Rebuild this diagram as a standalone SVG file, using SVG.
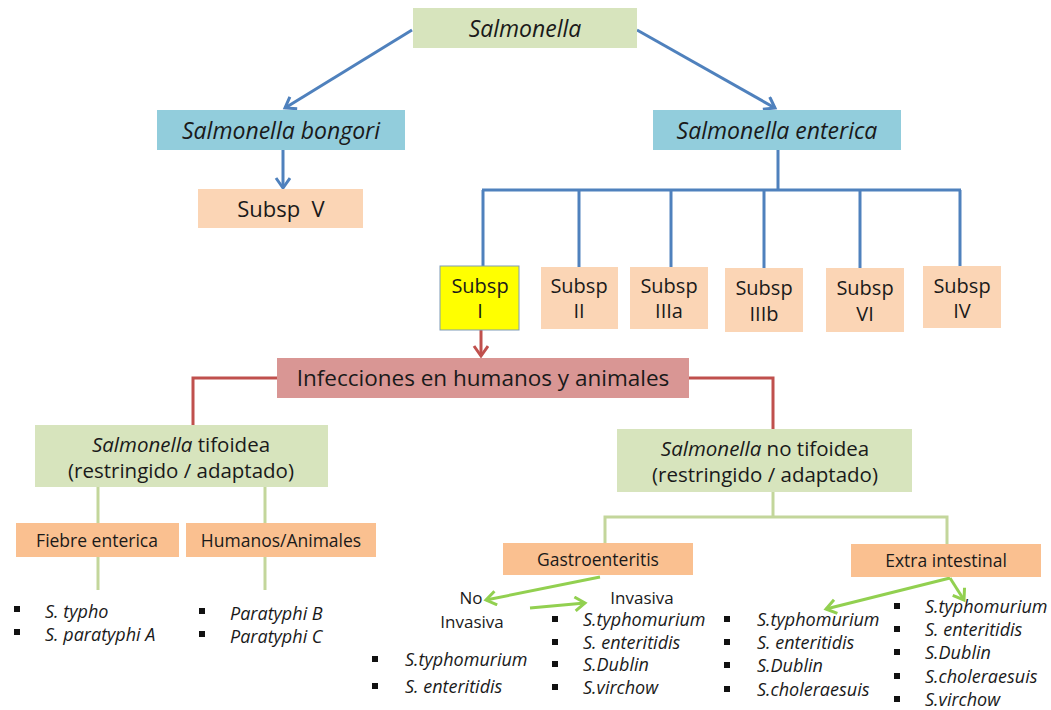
<svg xmlns="http://www.w3.org/2000/svg" width="1051" height="710" viewBox="0 0 1051 710">
<defs>
<marker id="ab" markerUnits="userSpaceOnUse" markerWidth="16" markerHeight="18" refX="12" refY="8" orient="auto"><path d="M2,1 L12,8 L2,15" fill="none" stroke="#4f81bd" stroke-width="3"/></marker>
<marker id="ar" markerUnits="userSpaceOnUse" markerWidth="16" markerHeight="18" refX="12" refY="8" orient="auto"><path d="M2,1 L12,8 L2,15" fill="none" stroke="#c0504d" stroke-width="3"/></marker>
<marker id="ag" markerUnits="userSpaceOnUse" markerWidth="16" markerHeight="18" refX="12" refY="8" orient="auto"><path d="M2,1 L12,8 L2,15" fill="none" stroke="#92d050" stroke-width="3"/></marker>
</defs>
<style>
text{font-family:"Open Sans","Liberation Sans",sans-serif;fill:#1a1a1a;text-anchor:middle}
.i{font-style:italic}
.l{text-anchor:start}
.green{fill:#d7e4bd}
.blue{fill:#92cddc}
.peach{fill:#fbd5b5}
.orange{fill:#fac090}
.red{fill:#d99694}
.cb{fill:none;stroke:#4f81bd;stroke-width:3}
.cr{fill:none;stroke:#c0504d;stroke-width:3}
.cg{fill:none;stroke:#c3d69b;stroke-width:3}
.ca{fill:none;stroke:#92d050;stroke-width:3}
.b{fill:#111}
.s{font-size:18px}
</style>
<rect width="1051" height="710" fill="#fff"/>
<g id="connectors">
<line class="cb" x1="412" y1="30" x2="285" y2="108" marker-end="url(#ab)"/>
<line class="cb" x1="637" y1="30" x2="775" y2="108" marker-end="url(#ab)"/>
<line class="cb" x1="283" y1="150" x2="283" y2="188" marker-end="url(#ab)"/>
<polyline class="cb" points="778,150 778,190"/>
<line class="cb" x1="482" y1="190" x2="961" y2="190"/>
<line class="cb" x1="483" y1="190" x2="483" y2="266"/>
<line class="cb" x1="579" y1="190" x2="579" y2="267"/>
<line class="cb" x1="671" y1="190" x2="671" y2="267"/>
<line class="cb" x1="764" y1="190" x2="764" y2="268"/>
<line class="cb" x1="860" y1="190" x2="860" y2="268"/>
<line class="cb" x1="960" y1="190" x2="960" y2="266"/>
<line class="cr" x1="481" y1="330" x2="481" y2="356" marker-end="url(#ar)"/>
<polyline class="cr" points="277,378 193,378 193,425"/>
<polyline class="cr" points="689,378 773,378 773,429"/>
<line class="cg" x1="98" y1="487" x2="98" y2="523"/>
<line class="cg" x1="265" y1="487" x2="265" y2="523"/>
<line class="cg" x1="98" y1="557" x2="98" y2="590"/>
<line class="cg" x1="265" y1="557" x2="265" y2="590"/>
<polyline class="cg" points="773,492 773,517"/>
<polyline class="cg" points="605,543 605,517 947,517 947,544"/>
<line class="ca" x1="600" y1="577" x2="486" y2="600" marker-end="url(#ag)"/>
<line class="ca" x1="530" y1="608" x2="585" y2="603" marker-end="url(#ag)"/>
<line class="ca" x1="950" y1="578" x2="826" y2="609" marker-end="url(#ag)"/>
<line class="ca" x1="950" y1="578" x2="964" y2="600" marker-end="url(#ag)"/>
</g>
<g id="salmonella"><rect class="green" x="413" y="8" width="224" height="40"/><text class="i" x="525" y="37" font-size="23">Salmonella</text></g>
<g id="bongori"><rect class="blue" x="157" y="110" width="248" height="40"/><text class="i" x="281" y="139" font-size="23">Salmonella bongori</text></g>
<g id="enterica"><rect class="blue" x="653" y="110" width="248" height="40"/><text class="i" x="777" y="139" font-size="23">Salmonella enterica</text></g>
<g id="subspV"><rect class="peach" x="198" y="189" width="165" height="39"/><text x="281" y="217" font-size="22" xml:space="preserve">Subsp  V</text></g>
<g id="subspI"><rect x="440" y="266" width="79" height="64" fill="#ffff00" stroke="#7f9bb8" stroke-width="1"/><text x="480" y="293" font-size="20">Subsp</text><text x="480" y="318" font-size="20">I</text></g>
<g id="subspII"><rect class="peach" x="541" y="267" width="77" height="62"/><text x="579" y="293" font-size="20">Subsp</text><text x="579" y="318" font-size="20">II</text></g>
<g id="subspIIIa"><rect class="peach" x="630" y="267" width="78" height="62"/><text x="669" y="293" font-size="20">Subsp</text><text x="669" y="318" font-size="20">IIIa</text></g>
<g id="subspIIIb"><rect class="peach" x="725" y="268" width="78" height="64"/><text x="764" y="295" font-size="20">Subsp</text><text x="764" y="321" font-size="20">IIIb</text></g>
<g id="subspVI"><rect class="peach" x="826" y="268" width="78" height="64"/><text x="865" y="295" font-size="20">Subsp</text><text x="865" y="321" font-size="20">VI</text></g>
<g id="subspIV"><rect class="peach" x="923" y="266" width="78" height="62"/><text x="962" y="293" font-size="20">Subsp</text><text x="962" y="318" font-size="20">IV</text></g>
<g id="infecciones"><rect class="red" x="277" y="358" width="412" height="40"/><text x="483" y="386" font-size="22.5">Infecciones en humanos y animales</text></g>
<g id="tifoidea"><rect class="green" x="35" y="425" width="293" height="62"/><text x="181" y="452" font-size="20.5"><tspan class="i">Salmonella</tspan> tifoidea</text><text x="181" y="478" font-size="20.5">(restringido / adaptado)</text></g>
<g id="notifoidea"><rect class="green" x="617" y="429" width="295" height="63"/><text x="765" y="456" font-size="20.5"><tspan class="i">Salmonella</tspan>  no tifoidea</text><text x="765" y="482" font-size="20.5">(restringido / adaptado)</text></g>
<g id="fiebre"><rect class="orange" x="16" y="523" width="163" height="34"/><text x="97" y="547" font-size="17.5">Fiebre enterica</text></g>
<g id="humanos"><rect class="orange" x="186" y="523" width="190" height="34"/><text x="281" y="547" font-size="17.5">Humanos/Animales</text></g>
<g id="gastro"><rect class="orange" x="503" y="543" width="190" height="32"/><text x="598" y="566" font-size="17.5">Gastroenteritis</text></g>
<g id="extra"><rect class="orange" x="851" y="544" width="190" height="33"/><text x="946" y="567" font-size="17.5">Extra intestinal</text></g>
<g id="list-fiebre">
<rect class="b" x="14" y="606" width="6" height="6"/><text class="i l s" x="45" y="618">S. typho</text>
<rect class="b" x="14" y="629" width="6" height="6"/><text class="i l s" x="45" y="641">S. paratyphi A</text>
</g>
<g id="list-humanos">
<rect class="b" x="199" y="608" width="6" height="6"/><text class="i l s" x="230" y="620">Paratyphi B</text>
<rect class="b" x="199" y="631" width="6" height="6"/><text class="i l s" x="230" y="643">Paratyphi C</text>
</g>
<g id="noinvasiva">
<text x="471" y="604" font-size="17">No</text>
<text x="472" y="628" font-size="17">Invasiva</text>
<rect class="b" x="372" y="656" width="6" height="6"/><text class="i l s" x="405" y="666">S.typhomurium</text>
<rect class="b" x="372" y="683" width="6" height="6"/><text class="i l s" x="405" y="693">S. enteritidis</text>
</g>
<g id="invasiva">
<text x="642" y="604" font-size="17">Invasiva</text>
<rect class="b" x="552" y="616" width="6" height="6"/><text class="i l s" x="583" y="626">S.typhomurium</text>
<rect class="b" x="552" y="639" width="6" height="6"/><text class="i l s" x="583" y="649">S. enteritidis</text>
<rect class="b" x="552" y="661" width="6" height="6"/><text class="i l s" x="583" y="671">S.Dublin</text>
<rect class="b" x="552" y="684" width="6" height="6"/><text class="i l s" x="583" y="694">S.virchow</text>
</g>
<g id="list-extra-a">
<rect class="b" x="724" y="616" width="6" height="6"/><text class="i l s" x="757" y="626">S.typhomurium</text>
<rect class="b" x="724" y="639" width="6" height="6"/><text class="i l s" x="757" y="649">S. enteritidis</text>
<rect class="b" x="724" y="662" width="6" height="6"/><text class="i l s" x="757" y="672">S.Dublin</text>
<rect class="b" x="724" y="686" width="6" height="6"/><text class="i l s" x="757" y="696">S.choleraesuis</text>
</g>
<g id="list-extra-b">
<rect class="b" x="894" y="603" width="6" height="6"/><text class="i l s" x="925" y="613">S.typhomurium</text>
<rect class="b" x="894" y="626" width="6" height="6"/><text class="i l s" x="925" y="636">S. enteritidis</text>
<rect class="b" x="894" y="649" width="6" height="6"/><text class="i l s" x="925" y="659">S.Dublin</text>
<rect class="b" x="894" y="673" width="6" height="6"/><text class="i l s" x="925" y="683">S.choleraesuis</text>
<rect class="b" x="894" y="696" width="6" height="6"/><text class="i l s" x="925" y="706">S.virchow</text>
</g>
</svg>
